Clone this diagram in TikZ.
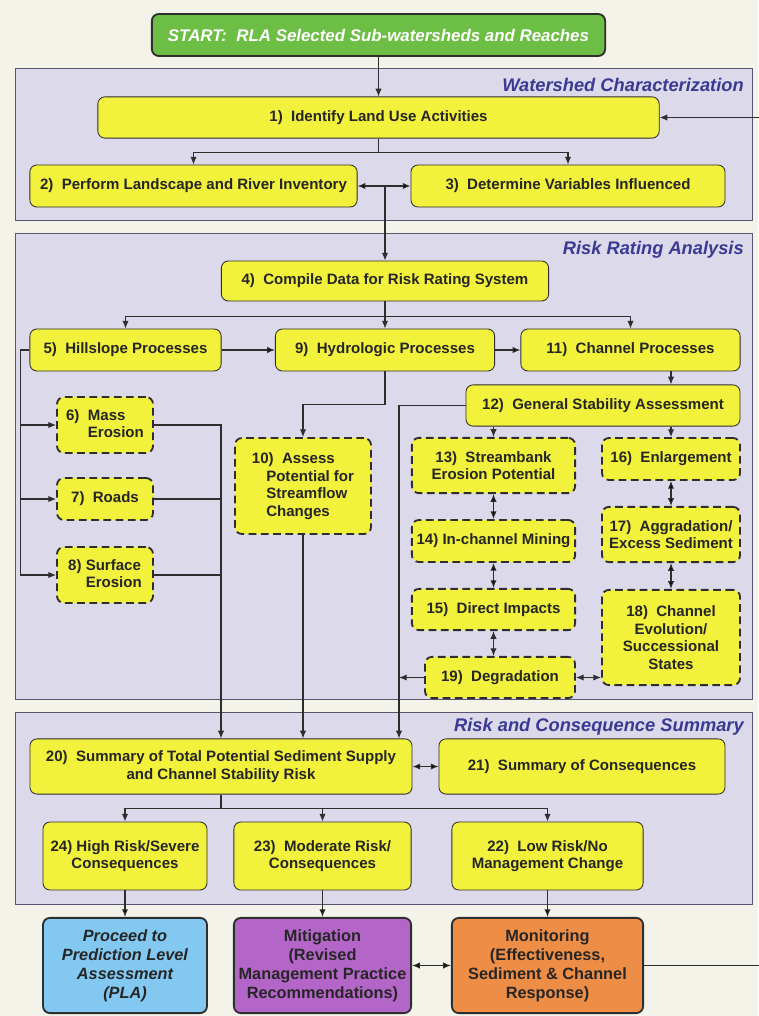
\documentclass[tikz,border=0pt]{standalone}
\usepackage{fontspec}
\setmainfont{Liberation Sans}
\usetikzlibrary{shapes, arrows.meta}

\definecolor{pagebg}{HTML}{F4F3E9}
\definecolor{panelfill}{HTML}{DCD9EA}
\definecolor{panelline}{HTML}{5A5470}
\definecolor{titleblue}{HTML}{3A3A94}
\definecolor{linegray}{HTML}{2E2E2E}
\definecolor{boxyellow}{HTML}{F2F23C}
\definecolor{startgreen}{HTML}{6DBE45}
\definecolor{plablue}{HTML}{82C8F0}
\definecolor{mitpurple}{HTML}{B465C8}
\definecolor{monorange}{HTML}{EE8D45}

\begin{document}
\begin{tikzpicture}[x=0.025cm, y=-0.025cm,
		every path/.style={>={Latex[length=5.5pt,width=4.5pt]}},
		box/.style={draw=linegray, fill=boxyellow, text=black!85, rounded corners=5pt, line width=0.6pt, align=center, inner sep=2pt, font=\fontsize{10.7}{12.6}\selectfont\bfseries},
		dbox/.style={box, line width=1.3pt, dash pattern=on 5.5pt off 3.2pt},
		endbox/.style={box, line width=1.3pt, minimum height=2.38cm, font=\fontsize{11.6}{13.5}\selectfont\bfseries},
		panel/.style={draw=panelline, fill=panelfill, line width=0.6pt},
		ptitle/.style={anchor=east, inner sep=0pt, text=titleblue, font=\fontsize{13}{15}\selectfont\bfseries\itshape},
		link/.style={draw=linegray, line width=0.8pt}]
	\useasboundingbox (0,0) rectangle (758,1016);
	\fill [pagebg] (0,0) rectangle (758,1016);

	% panels
	\draw [panel] (15,68) rectangle (752,220);
	\node [ptitle] (T1) at (744,85) {Watershed Characterization};
	\draw [panel] (15,233) rectangle (752,699);
	\node [ptitle] (T2) at (744,250) {Risk Rating Analysis};
	\draw [panel] (15,712) rectangle (752,904);
	\node [ptitle] (T3) at (744,727) {Risk and Consequence Summary};

	% boxes
	\node [box, fill=startgreen, text=white, line width=1.3pt, minimum width=11.33cm, minimum height=1.05cm, font=\fontsize{12}{14}\selectfont\bfseries\itshape] (Start) at (378.5,35) {START:~~RLA Selected Sub-watersheds and Reaches};
	\node [box, minimum width=14.03cm, minimum height=1.03cm] (B1) at (378.5,117.5) {1)~~Identify Land Use Activities};
	\node [box, minimum width=8.18cm, minimum height=1.05cm] (B2) at (193.5,186) {2)~~Perform Landscape and River Inventory};
	\node [box, minimum width=7.85cm, minimum height=1.05cm] (B3) at (568,186) {3)~~Determine Variables Influenced};
	\node [box, minimum width=8.18cm, minimum height=1.0cm] (B4) at (385,281) {4)~~Compile Data for Risk Rating System};
	\node [box, minimum width=4.78cm, minimum height=1.05cm] (B5) at (125.5,350) {5)~~Hillslope Processes};
	\node [box, minimum width=5.48cm, minimum height=1.05cm] (B9) at (385,350) {9)~~Hydrologic Processes};
	\node [box, minimum width=5.48cm, minimum height=1.05cm] (B11) at (630.5,350) {11)~~Channel Processes};
	\node [box, minimum width=6.85cm, minimum height=1.03cm] (B12) at (603,405.5) {12)~~General Stability Assessment};
	\node [dbox, align=left, minimum width=2.4cm, minimum height=1.4cm] (B6) at (105,425) {6)~~Mass\\\phantom{6)~~}Erosion};
	\node [dbox, minimum width=2.4cm, minimum height=1.05cm] (B7) at (105,499) {7)~~Roads};
	\node [dbox, align=left, minimum width=2.4cm, minimum height=1.4cm] (B8) at (105,575) {8) Surface\\\phantom{8)\ }Erosion};
	\node [dbox, align=left, minimum width=3.4cm, minimum height=2.4cm] (B10) at (303,486) {10)~~Assess\\\hspace*{0.95em}Potential for\\\hspace*{0.95em}Streamflow\\\hspace*{0.95em}Changes};
	\node [dbox, minimum width=4.08cm, minimum height=1.38cm] (B13) at (493.5,465.5) {13)~~Streambank\\Erosion Potential};
	\node [dbox, minimum width=4.08cm, minimum height=1.05cm] (B14) at (493.5,541) {14) In-channel Mining};
	\node [dbox, minimum width=4.08cm, minimum height=1.03cm] (B15) at (493.5,609.5) {15)~~Direct Impacts};
	\node [dbox, minimum width=3.75cm, minimum height=1.03cm] (B19) at (500,677.5) {19)~~Degradation};
	\node [dbox, minimum width=3.45cm, minimum height=1.05cm] (B16) at (671,459) {16)~~Enlargement};
	\node [dbox, minimum width=3.45cm, minimum height=1.38cm] (B17) at (671,534.5) {17)~~Aggradation/\\Excess Sediment};
	\node [dbox, minimum width=3.45cm, minimum height=2.38cm] (B18) at (671,637.5) {18)~~Channel\\Evolution/\\Successional\\States};
	\node [box, minimum width=9.55cm, minimum height=1.38cm] (B20) at (221,766.5) {20)~~Summary of Total Potential Sediment Supply\\and Channel Stability Risk};
	\node [box, minimum width=7.15cm, minimum height=1.38cm] (B21) at (582,766.5) {21)~~Summary of Consequences};
	\node [box, minimum width=4.1cm, minimum height=1.7cm] (B24) at (125,856) {24) High Risk/Severe\\Consequences};
	\node [box, minimum width=4.43cm, minimum height=1.7cm] (B23) at (322.5,856) {23)~~Moderate Risk/\\Consequences};
	\node [box, minimum width=4.78cm, minimum height=1.7cm] (B22) at (547.5,856) {22)~~Low Risk/No\\Management Change};
	\node [endbox, fill=plablue, minimum width=4.1cm, font=\fontsize{11.6}{13.5}\selectfont\bfseries\itshape] (PLA) at (125,965.5) {Proceed to\\Prediction Level\\Assessment\\(PLA)};
	\node [endbox, fill=mitpurple, minimum width=4.43cm] (Mit) at (322.5,965.5) {Mitigation\\(Revised\\Management Practice\\Recommendations)};
	\node [endbox, fill=monorange, minimum width=4.78cm] (Mon) at (547.5,965.5) {Monitoring\\(Effectiveness,\\Sediment \& Channel\\Response)};
	\coordinate (Drop) at (399,405.5);

	% connectors
	\draw [->, link] (Start) -- (B1);
	\draw [->, link] (B1.south) -- ++(0,14) -| (B2.north);
	\draw [->, link] (B1.south) -- ++(0,14) -| (B3.north);
	\path [<->, link] (B2) edge (B3);
	\draw [->, link] (B4.north |- B2.east) -- (B4.north);
	\draw [->, link] (B4.south) -- ++(0,15) -| (B5.north);
	\draw [->, link] (B4.south) -- (B9.north);
	\draw [->, link] (B4.south) -- ++(0,15) -| (B11.north);
	\path [->, link] (B5) edge (B9) (B9) edge (B11);
	\draw [->, link] (B11.south -| B16) -- (B12.north -| B16);
	\draw [->, link] (B5.west) -- ++(-9,0) |- (B6);
	\draw [->, link] (B5.west) -- ++(-9,0) |- (B7);
	\draw [->, link] (B5.west) -- ++(-9,0) |- (B8);
	\draw [->, link] (B6) -| (B20);
	\draw [link] (B7) -- (B7 -| B20);
	\draw [link] (B8) -- (B8 -| B20);
	\draw [->, link] (B9.south) -- ++(0,33) -| (B10);
	\draw [->, link] (B10) -- (B10 |- B20.north);
	\draw [->, link] (B12) -- (Drop) -- (Drop |- B20.north);
	\draw [->, link] (B19) -- (B19 -| Drop);
	\draw [->, link] (B13.north |- B12.south) -- (B13);
	\draw [->, link] (B16.north |- B12.south) -- (B16);
	\path [<->, link] (B13) edge (B14) (B14) edge (B15) (B16) edge (B17) (B17) edge (B18);
	\draw [<->, link] (B15) -- (B15 |- B19.north);
	\draw [<->, link] (B19.east) -- (B19.east -| B18.west);
	\path [<->, link] (B20) edge (B21);
	\draw [->, link] (B20.south) -- ++(0,14) -| (B24);
	\draw [->, link] (B20.south) -- ++(0,14) -| (B23);
	\draw [->, link] (B20.south) -- ++(0,14) -| (B22);
	\path [->, link] (B24) edge (PLA) (B23) edge (Mit) (B22) edge (Mon);
	\path [<->, link] (Mit) edge (Mon);
	\draw [->, link] (Mon) -- ++(230,0) |- (B1);
\end{tikzpicture}
\end{document}
